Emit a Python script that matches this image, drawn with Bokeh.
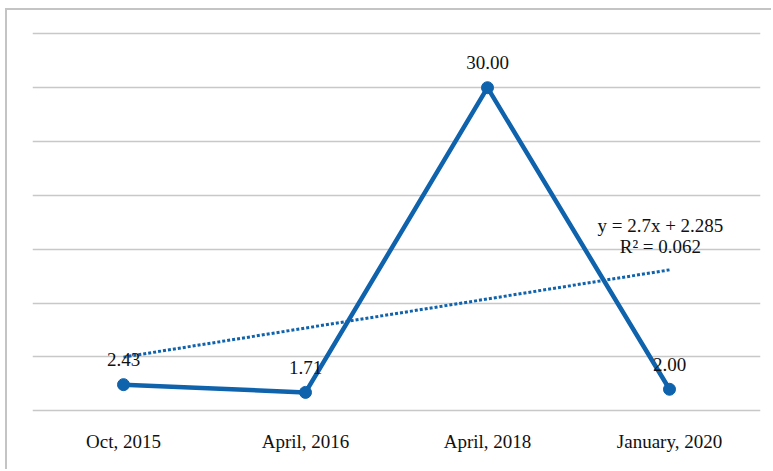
import numpy as np
from bokeh.plotting import figure
from bokeh.models import FactorRange, Range1d, ColumnDataSource, Label, FixedTicker
from bokeh.core.properties import value
from bokeh.embed import file_html
from bokeh.resources import INLINE

# Survey waves and the measured values
periods = ["Oct, 2015", "April, 2016", "April, 2018", "January, 2020"]
values = [2.43, 1.71, 30.00, 2.00]
value_labels = ["2.43", "1.71", "30.00", "2.00"]
grid_values = [0, 5, 10, 15, 20, 25, 30, 35]

BLUE = "#0F62AC"
SERIF = "Liberation Serif"

# Linear trend over the wave index 1..n
idx = np.arange(1, len(values) + 1)
slope, intercept = np.polyfit(idx, values, 1)
fitted = slope * idx + intercept
ss_res = np.sum((np.array(values) - fitted) ** 2)
ss_tot = np.sum((np.array(values) - np.mean(values)) ** 2)
r2 = 1 - ss_res / ss_tot

p = figure(
    width=766, height=461,
    x_range=FactorRange(*periods, range_padding=0),
    y_range=Range1d(-0.90, 36.24),
    output_backend="svg", toolbar_location=None,
    min_border_left=25, min_border_right=13,
    min_border_top=10, min_border_bottom=51,
)
p.margin = (8, 0, 0, 5)
p.styles = {"border-left": "2px solid #c4c4c4", "border-top": "2px solid #c4c4c4"}
p.outline_line_color = None
p.background_fill_color = "white"
p.border_fill_color = "white"

p.xgrid.grid_line_color = None
p.ygrid.grid_line_color = "#c8c8c8"
p.ygrid.grid_line_width = 1.5
p.yaxis.visible = False
p.yaxis.ticker = FixedTicker(ticks=grid_values)
p.ygrid.ticker = FixedTicker(ticks=grid_values)

ax = p.xaxis[0]
ax.axis_line_color = None
ax.major_tick_line_color = None
ax.minor_tick_line_color = None
ax.major_tick_out = 0
ax.major_label_standoff = 10
ax.major_label_text_font = SERIF
ax.major_label_text_font_size = "19px"
ax.major_label_text_color = "#111111"

src = ColumnDataSource(dict(x=periods, y=values, lab=value_labels))

# Trend line from the first to the last wave (category centres sit at i - 0.5)
trend_x = [float(idx[0]) - 0.5, float(idx[-1]) - 0.5]
trend_y = [slope * idx[0] + intercept, slope * idx[-1] + intercept]
p.line(trend_x, trend_y, line_color=BLUE, line_width=3, line_dash="3 2")

p.line("x", "y", source=src, line_color=BLUE, line_width=4.5)
p.scatter("x", "y", source=src, size=12, fill_color=BLUE, line_color=BLUE)

p.text("x", "y", text="lab", source=src, y_offset=-25,
       text_align="center", text_baseline="middle",
       text_font=value(SERIF), text_font_size="19px", text_color="#111111")

eq = Label(x=3.45, y=17.2, text=f"y = {slope:.1f}x + {intercept:.3f}",
           text_align="center", text_baseline="middle",
           text_font=SERIF, text_font_size="19px", text_color="#111111")
rsq = Label(x=3.45, y=15.25, text=f"R² = {r2:.3f}",
            text_align="center", text_baseline="middle",
            text_font=SERIF, text_font_size="19px", text_color="#111111")
p.add_layout(eq)
p.add_layout(rsq)

open("out.html", "w").write(file_html(p, INLINE))
